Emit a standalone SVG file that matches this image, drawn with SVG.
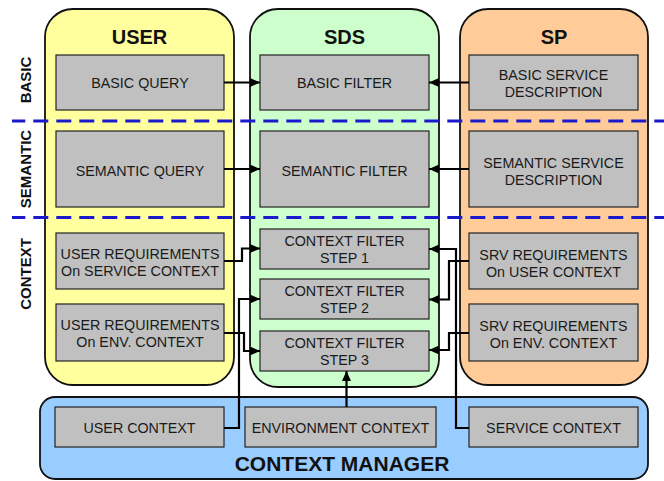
<svg xmlns="http://www.w3.org/2000/svg" width="664" height="481" viewBox="0 0 664 481">
<style>
.col{stroke:#111;stroke-width:1.8}
.box{fill:#c0c0c0;stroke:#222;stroke-width:1.2}
.t{font-family:"Liberation Sans",Arial,sans-serif;font-size:14.3px;fill:#1a1a1a;text-anchor:middle}
.h{font-family:"Liberation Sans",Arial,sans-serif;font-size:20px;font-weight:bold;fill:#111;text-anchor:middle}
.s{font-family:"Liberation Sans",Arial,sans-serif;font-size:15px;font-weight:bold;fill:#111;text-anchor:middle}
.c{fill:none;stroke:#000;stroke-width:2.2}
.d{stroke:#1a1acc;stroke-width:3;stroke-dasharray:15 8;stroke-dashoffset:1.7}
</style>
<defs>
<marker id="ah" markerUnits="userSpaceOnUse" markerWidth="10" markerHeight="9" refX="10" refY="4.5" orient="auto">
<path d="M0,0 L10,4.5 L0,9 z" fill="#000"/>
</marker>
</defs>
<rect width="664" height="481" fill="#fff"/>
<g id="user-col">
<rect class="col" x="45" y="9" width="189" height="376" rx="28" fill="#ffff9e"/>
<text class="h" x="139.5" y="44">USER</text>
</g>
<g id="sds-col">
<rect class="col" x="250" y="9" width="189" height="378" rx="28" fill="#ccffcc"/>
<text class="h" x="344.5" y="44">SDS</text>
</g>
<g id="sp-col">
<rect class="col" x="460" y="9" width="188" height="376" rx="28" fill="#ffcc99"/>
<text class="h" x="554" y="44">SP</text>
</g>
<g id="cm">
<rect class="col" x="40" y="397" width="608" height="82" rx="15" fill="#99ccff"/>
<text class="h" x="342" y="471" style="font-size:21px">CONTEXT MANAGER</text>
</g>
<g id="basic-query"><rect class="box" x="56" y="55" width="168" height="55"/><text class="t" x="140" y="88">BASIC QUERY</text></g>
<g id="semantic-query"><rect class="box" x="56" y="131" width="168" height="76"/><text class="t" x="140" y="176">SEMANTIC QUERY</text></g>
<g id="user-req-svc"><rect class="box" x="56" y="233" width="168" height="56"/><text class="t" x="140" y="258.5">USER REQUIREMENTS</text><text class="t" x="140" y="276">On SERVICE CONTEXT</text></g>
<g id="user-req-env"><rect class="box" x="56" y="304" width="168" height="57"/><text class="t" x="140" y="330">USER REQUIREMENTS</text><text class="t" x="140" y="347">On ENV. CONTEXT</text></g>
<g id="basic-filter"><rect class="box" x="260" y="55" width="169" height="55"/><text class="t" x="344.5" y="88">BASIC FILTER</text></g>
<g id="semantic-filter"><rect class="box" x="260" y="131" width="169" height="76"/><text class="t" x="344.5" y="176">SEMANTIC FILTER</text></g>
<g id="step1"><rect class="box" x="260" y="229" width="169" height="40"/><text class="t" x="344.5" y="246">CONTEXT FILTER</text><text class="t" x="344.5" y="263">STEP 1</text></g>
<g id="step2"><rect class="box" x="260" y="279" width="169" height="40"/><text class="t" x="344.5" y="296">CONTEXT FILTER</text><text class="t" x="344.5" y="313">STEP 2</text></g>
<g id="step3"><rect class="box" x="260" y="331" width="169" height="40"/><text class="t" x="344.5" y="348">CONTEXT FILTER</text><text class="t" x="344.5" y="365">STEP 3</text></g>
<g id="basic-svc"><rect class="box" x="469" y="55" width="169" height="55"/><text class="t" x="553.5" y="80">BASIC SERVICE</text><text class="t" x="553.5" y="97">DESCRIPTION</text></g>
<g id="semantic-svc"><rect class="box" x="469" y="131" width="169" height="76"/><text class="t" x="553.5" y="168">SEMANTIC SERVICE</text><text class="t" x="553.5" y="185">DESCRIPTION</text></g>
<g id="srv-req-user"><rect class="box" x="469" y="233" width="169" height="56"/><text class="t" x="553.5" y="259.5">SRV REQUIREMENTS</text><text class="t" x="553.5" y="277">On USER CONTEXT</text></g>
<g id="srv-req-env"><rect class="box" x="469" y="304" width="169" height="57"/><text class="t" x="553.5" y="331">SRV REQUIREMENTS</text><text class="t" x="553.5" y="348">On ENV. CONTEXT</text></g>
<g id="user-context"><rect class="box" x="55" y="407" width="169" height="40"/><text class="t" x="139.5" y="433">USER CONTEXT</text></g>
<g id="env-context"><rect class="box" x="245" y="407" width="191" height="40"/><text class="t" x="340.5" y="433">ENVIRONMENT CONTEXT</text></g>
<g id="service-context"><rect class="box" x="469" y="407" width="169" height="40"/><text class="t" x="553.5" y="433">SERVICE CONTEXT</text></g>
<g id="connectors">
<path class="c" d="M224,82.5 H260" marker-end="url(#ah)"/>
<path class="c" d="M224,169 H260" marker-end="url(#ah)"/>
<path class="c" d="M469,82.5 H429" marker-end="url(#ah)"/>
<path class="c" d="M469,169 H429" marker-end="url(#ah)"/>
<path class="c" d="M224,261 H242 V248.5 H260" marker-end="url(#ah)"/>
<path class="c" d="M224,428 H239 V299 H260" marker-end="url(#ah)"/>
<path class="c" d="M224,333 H244 V351 H260" marker-end="url(#ah)"/>
<path class="c" d="M469,428 H456 V249 H429" marker-end="url(#ah)"/>
<path class="c" d="M469,261 H449 V299.5 H429" marker-end="url(#ah)"/>
<path class="c" d="M469,333 H449 V350 H429" marker-end="url(#ah)"/>
<path class="c" d="M346.5,407 V371" marker-end="url(#ah)"/>
</g>
<g id="layers">
<line class="d" x1="12" y1="121" x2="664" y2="121"/>
<line class="d" x1="12" y1="217.5" x2="664" y2="217.5"/>
<text class="s" transform="translate(31,80) rotate(-90)">BASIC</text>
<text class="s" transform="translate(31,169) rotate(-90)">SEMANTIC</text>
<text class="s" transform="translate(31,274) rotate(-90)">CONTEXT</text>
</g>
</svg>
